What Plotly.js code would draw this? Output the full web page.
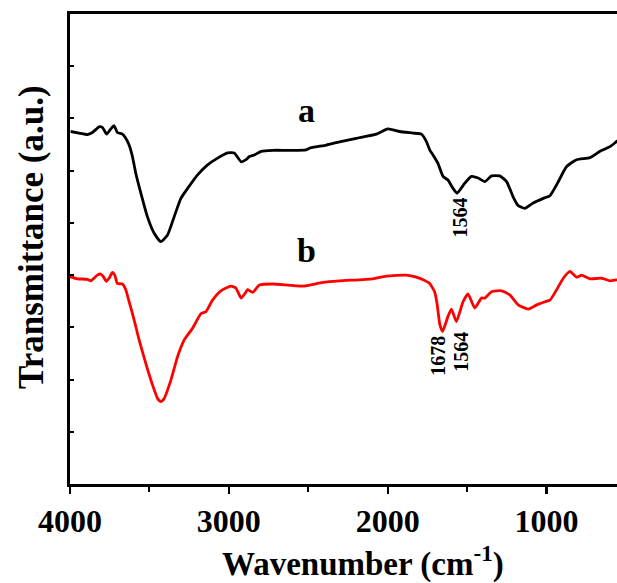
<!DOCTYPE html>
<html>
<head>
<meta charset="utf-8">
<script src="https://cdn.plot.ly/plotly-3.0.1.min.js"></script>
<style>html,body{margin:0;padding:0;background:#fff;overflow:hidden}</style>
</head>
<body>
<div id="chart" style="width:617px;height:583px"></div>
<script>
// Curve a (black)
const waveA = [3996,3943,3891,3859,3817,3796,3769,3743,3722,3702,3670,3649,3628,3607,3586,3554,3513,3470,3428,3386,3344,3302,3260,3197,3134,3071,3008,2966,2923,2892,2871,2840,2797,2724,2619,2514,2493,2387,2304,2198,2072,1999,1925,1841,1788,1757,1736,1715,1684,1652,1621,1589,1564,1515,1473,1431,1389,1347,1295,1252,1211,1179,1137,1085,1021,979,937,874,811,727,664,601,559,540];
const transA = [6.75,6.72,6.69,6.73,6.84,6.83,6.70,6.80,6.86,6.73,6.70,6.62,6.49,6.27,5.95,5.57,5.12,4.80,4.64,4.77,5.12,5.47,5.66,5.92,6.11,6.24,6.34,6.34,6.17,6.21,6.27,6.30,6.37,6.39,6.39,6.40,6.43,6.49,6.55,6.62,6.70,6.80,6.75,6.72,6.70,6.56,6.40,6.30,6.14,5.89,5.82,5.66,5.57,5.76,5.89,5.86,5.79,5.90,5.90,5.79,5.50,5.33,5.28,5.38,5.47,5.52,5.73,6.08,6.21,6.25,6.37,6.46,6.56,6.60];
// Curve b (red)
const waveB = [4000,3954,3891,3869,3828,3806,3790,3771,3754,3733,3718,3702,3670,3649,3628,3596,3565,3523,3481,3449,3428,3407,3365,3323,3281,3229,3176,3144,3103,3050,2987,2955,2923,2892,2882,2850,2808,2724,2535,2409,2304,2094,2009,1883,1820,1757,1736,1705,1690,1672,1655,1621,1599,1568,1526,1495,1452,1410,1389,1347,1284,1232,1179,1116,1063,1011,979,937,895,853,811,780,727,653,601,559,540];
const transB = [3.97,3.93,3.92,3.89,4.00,4.02,3.97,3.88,3.94,4.05,4.00,3.84,3.83,3.72,3.49,3.14,2.76,2.31,1.90,1.64,1.58,1.64,1.99,2.44,2.76,2.98,3.26,3.30,3.52,3.70,3.79,3.75,3.56,3.68,3.72,3.67,3.81,3.83,3.79,3.86,3.89,3.93,3.98,4.00,3.96,3.88,3.84,3.68,3.46,3.05,2.92,3.21,3.35,3.11,3.49,3.64,3.37,3.56,3.56,3.68,3.70,3.62,3.43,3.35,3.43,3.49,3.52,3.72,3.94,4.07,3.96,4.00,3.93,3.94,3.89,3.91,3.91];

const xTickVals = [4000,3000,2000,1000];
const xTickText = ["4000","3000","2000","1000"];
const curveLabels = ["a","b"];
const curveLabelX = [2512,2512];
const curveLabelY = [7.16,4.48];
const peakText = ["1564","1678","1564"];
const peakX = [1547,1686,1540];
const peakY = [5.10,2.45,2.53];
const xTitle = "Wavenumber (cm<sup>-1</sup>)";
const yTitle = "Transmittance (a.u.)";

const serif = "Liberation Serif, Times New Roman, serif";

const annotations = [];
curveLabels.forEach((t,i)=>annotations.push({x:curveLabelX[i],y:curveLabelY[i],text:t,showarrow:false,
  font:{family:serif,size:34,color:"#000",weight:"bold"},xref:"x",yref:"y"}));
peakText.forEach((t,i)=>annotations.push({x:peakX[i],y:peakY[i],text:t,showarrow:false,textangle:-90,
  font:{family:serif,size:20,color:"#000",weight:"bold"},xref:"x",yref:"y"}));
annotations.push({xref:"paper",yref:"paper",x:0.536,y:-0.164,xanchor:"center",yanchor:"middle",
  text:xTitle,showarrow:false,font:{family:serif,size:33,color:"#000",weight:"bold"}});
annotations.push({xref:"paper",yref:"paper",x:-0.0713,y:0.5255,xanchor:"center",yanchor:"middle",
  text:yTitle,showarrow:false,textangle:-90,font:{family:serif,size:35,color:"#000",weight:"bold"}});

const data = [
  {x:waveA,y:transA,mode:"lines",line:{color:"#000000",width:2.8,shape:"spline",smoothing:0.5},hoverinfo:"skip"},
  {x:waveB,y:transB,mode:"lines",line:{color:"#ff0000",width:2.8,shape:"spline",smoothing:0.5},hoverinfo:"skip"}
];

const layout = {
  width:617,height:583,
  margin:{l:70,r:0,t:14,b:99},
  paper_bgcolor:"#fff",plot_bgcolor:"#fff",
  showlegend:false,
  xaxis:{
    range:[4000,557],autorange:false,
    tickvals:xTickVals,ticktext:xTickText,
    ticks:"outside",ticklen:7,tickwidth:2.5,tickcolor:"#000",
    minor:{tickvals:[3500,2500,1500,500],ticks:"outside",ticklen:5,tickwidth:2,tickcolor:"#000"},
    showline:true,linecolor:"#000",linewidth:3,mirror:true,
    showgrid:false,zeroline:false,
    tickfont:{family:serif,size:32,color:"#000",weight:"bold"}
  },
  yaxis:{
    range:[0,9],autorange:false,dtick:1,tick0:0,
    ticks:"inside",ticklen:4,tickwidth:2,tickcolor:"#000",
    showticklabels:false,
    showline:true,linecolor:"#000",linewidth:3,mirror:false,
    showgrid:false,zeroline:false
  },
  annotations:annotations
};

Plotly.newPlot("chart",data,layout,{staticPlot:true,displayModeBar:false});
</script>
</body>
</html>
